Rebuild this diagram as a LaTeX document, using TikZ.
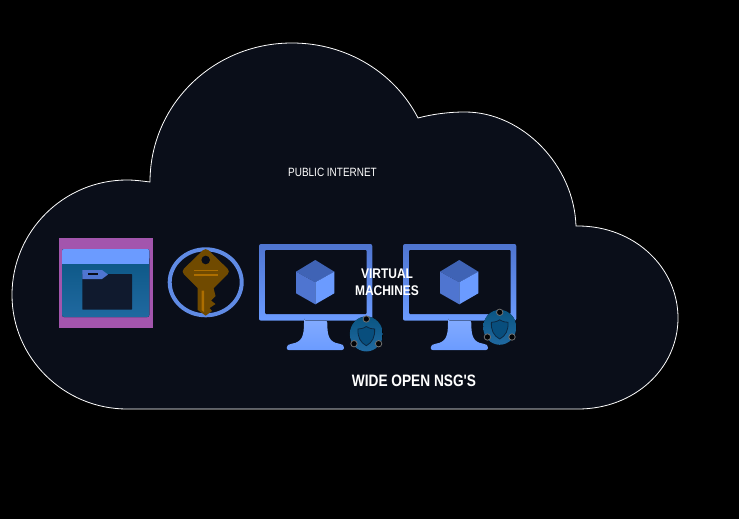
\documentclass[tikz,border=0pt]{standalone}
\usepackage{fontspec}
\setmainfont{Liberation Sans}
\definecolor{cloudfill}{HTML}{0A0E19}
\definecolor{azblue}{HTML}{6B9BFF}
\definecolor{azmid}{HTML}{4F75D0}
\definecolor{azdark}{HTML}{3F63B5}
\definecolor{keydark}{HTML}{704A00}
\definecolor{keylight}{HTML}{AD6E00}
\definecolor{tealtop}{HTML}{0A5582}
\definecolor{tealbot}{HTML}{2069A0}
\definecolor{shieldfill}{HTML}{084E7D}
\definecolor{shieldline}{HTML}{0C2842}
\definecolor{folderdark}{HTML}{101A2E}
\definecolor{purplebg}{HTML}{A355AD}
\tikzset{
  label/.style={text=white,inner sep=0pt,align=center},
  vmscreen/.pic={
    \fill[top color=azmid,bottom color=azblue,rounded corners=2] (0,0) rectangle (113.3,76.7);
    \fill[cloudfill,rounded corners=1] (6,6) rectangle (107.7,70);
    \fill[top color=azblue!85!white,bottom color=azblue,rounded corners=2]
      (45,76.7) -- (68.3,76.7) .. controls (68.3,92) and (70,98) .. (82,100) .. controls (84,101) and (85,103) .. (85,106) -- (27.7,106) .. controls (27.7,103) and (29,101) .. (31,100) .. controls (43,98) and (45,92) .. (45,76.7) -- cycle;
    \fill[azdark] (56.3,16) -- (75.3,27.7) -- (56.3,38.3) -- (37,27.7) -- cycle;
    \fill[azmid] (37,27.7) -- (56.3,38.3) -- (56.3,60.3) -- (37,49.3) -- cycle;
    \fill[azblue] (75.3,27.7) -- (56.3,38.3) -- (56.3,60.3) -- (75.3,49.3) -- cycle;
  },
  nsgbadge/.pic={
    \fill[top color=tealtop,bottom color=tealbot] (0,0) ellipse (16.5 and 17.5);
    \filldraw[fill=shieldfill,draw=shieldline,line width=0.8]
      (0,-7.5) .. controls (3,-5.5) and (6,-5) .. (8.3,-5) .. controls (8.8,3) and (6,8.5) .. (0,11.7) .. controls (-6,8.5) and (-8.8,3) .. (-8.3,-5) .. controls (-6,-5) and (-3,-5.5) .. (0,-7.5) -- cycle;
    \foreach \dotx/\doty in {0/-15,-12.3/9.7,12.3/9.7}
      \filldraw[fill=black!80!cloudfill,draw=black!55!white,line width=0.8] (\dotx,\doty) circle (3.2);
  }
}
\begin{document}
\begin{tikzpicture}[x=1pt,y=-1pt]
\useasboundingbox (0,0) rectangle (739,519);
\fill[black] (0,0) rectangle (739,519);
\filldraw[fill=cloudfill,draw=white,line width=0.8]
  (127,409) -- (578,409) .. controls (635,409) and (678,368) .. (678,318) .. controls (678,268) and (635,226) .. (578,226) -- (576,226)
  .. controls (574,165) and (522,112) .. (465,112) .. controls (449,112) and (433,114) .. (418,118)
  .. controls (395,73) and (347,43) .. (292,43) .. controls (213,43) and (150,105) .. (150,182)
  .. controls (142,181) and (135,180) .. (127,180) .. controls (64,180) and (12,231) .. (12,295)
  .. controls (12,358) and (64,409) .. (127,409) -- cycle;
\fill[purplebg] (59,238) rectangle (152.5,328);
\fill[top color=tealtop,bottom color=tealbot,rounded corners=2] (62,249) rectangle (149.3,317);
\fill[azblue,rounded corners=2] (62,249) rectangle (149.3,260);
\fill[azblue] (62,255) rectangle (149.3,264);
\fill[folderdark,rounded corners=0.5] (82.3,274) rectangle (132,309.7);
\fill[azmid] (82.3,270) -- (102,270) -- (108,274.5) -- (102,279) -- (82.3,279) -- cycle;
\fill[cloudfill] (88,272.8) rectangle (98,275.2);
\draw[azblue!90!black,line width=4] (205.7,282.3) ellipse (36 and 33);
\fill[keydark,rounded corners=4] (205.7,247.5) -- (230.5,271.5) -- (205.7,296) -- (181,271.5) -- cycle;
\fill[keydark] (197.7,288) -- (197.7,310) -- (205.7,315.7) -- (212,311) -- (209.5,308) -- (215.5,304) -- (211,300.5) -- (215.5,296) -- (213.5,288) -- cycle;
\fill[cloudfill] (205.7,260) circle (4.3);
\fill[keylight] (194.3,269.5) rectangle (217.7,271);
\fill[keylight] (194.3,274) rectangle (217.7,275.5);
\fill[keylight] (201.5,290.7) -- (204,290.7) -- (204,312) -- (201.5,310) -- cycle;
\pic (vma) at (259,244) {vmscreen};
\pic (vmb) at (403,244) {vmscreen};
\pic (nsga) at (366.3,334) {nsgbadge};
\pic (nsgb) at (499.7,327.3) {nsgbadge};
\node[label,font=\fontsize{12}{14}\selectfont,xscale=0.83] (internet) at (332.5,172) {PUBLIC INTERNET};
\node[label,font=\fontsize{14}{17}\bfseries\selectfont,xscale=0.857] (vmlabel) at (387,282.5) {VIRTUAL\\MACHINES};
\node[label,font=\fontsize{16.5}{18}\bfseries\selectfont,xscale=0.83] (nsglabel) at (414,381) {WIDE OPEN NSG\textquotesingle S};
\end{tikzpicture}
\end{document}
